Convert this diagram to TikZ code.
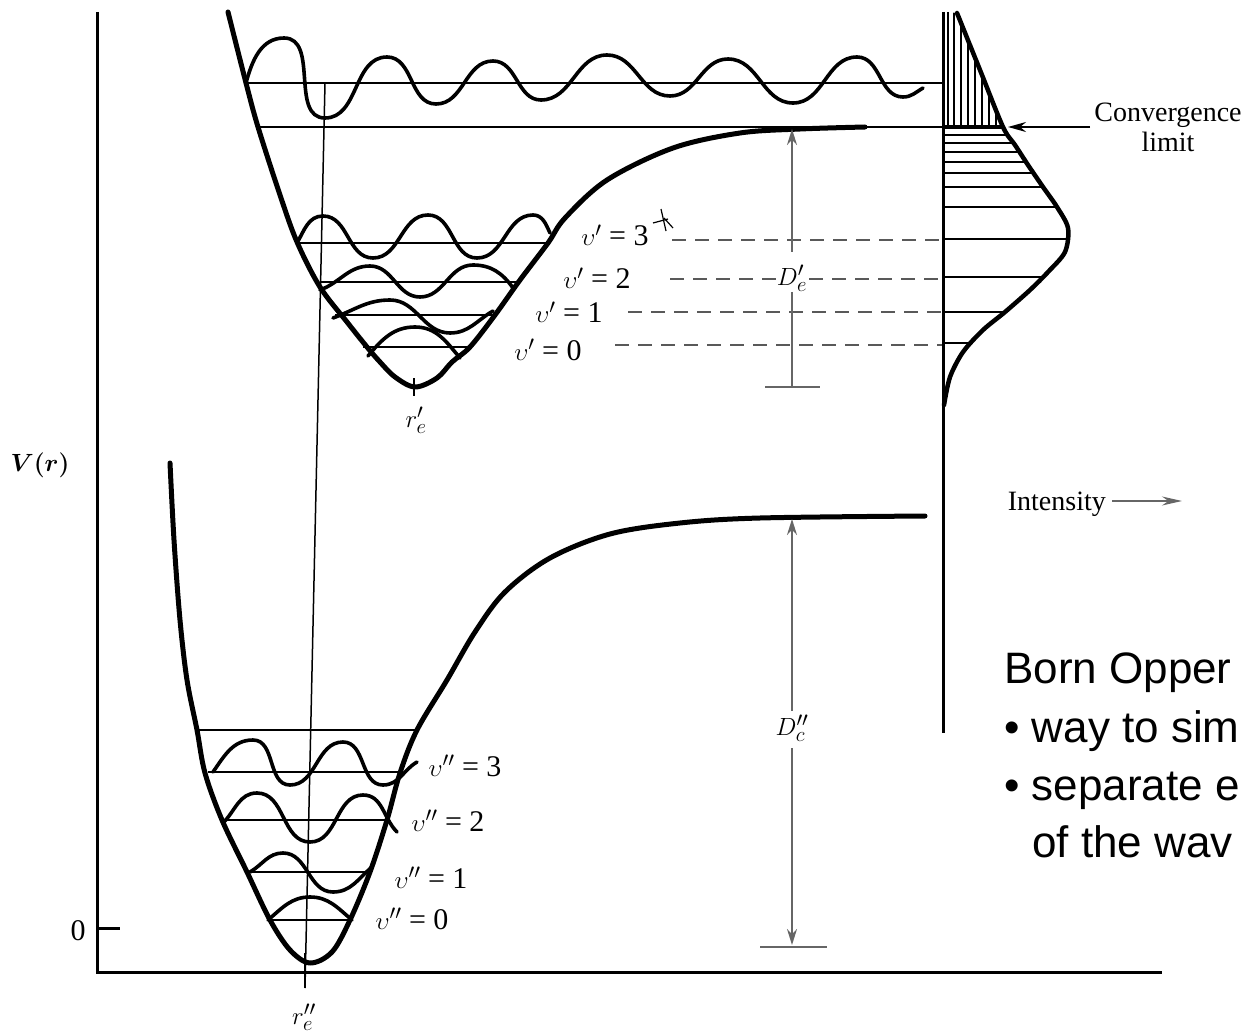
\documentclass[tikz,border=0pt]{standalone}
\usepackage{fontspec}
\setmainfont{Liberation Serif}
\newfontfamily\arialf{Liberation Sans}
\usetikzlibrary{arrows.meta}
\begin{document}
\begin{tikzpicture}[x=1pt,y=1pt,
  pot/.style={line width=5pt, line cap=round, line join=round},
  wav/.style={line width=3.6pt, line cap=round, line join=round},
  lev/.style={line width=1.6pt},
  ax/.style={line width=3pt},
  dsh/.style={line width=1.8pt, black!65, dash pattern=on 14pt off 9pt},
  dimln/.style={line width=1.8pt, black!60},
  hatch/.style={line width=1.5pt},
  lbl/.style={font=\fontsize{30}{34}\selectfont, inner sep=0pt},
  bo/.style={font=\arialf\fontsize{44}{58}\selectfont, inner sep=0pt, anchor=base west}]
\useasboundingbox (0,0) rectangle (1245,-1032);
\begin{scope}
\clip (0,0) rectangle (1245,-1032);
% axes
\draw[ax] (97,-12) -- (97,-972) -- (1162,-972);
\draw[ax] (97,-928) -- (120,-928);
\node[lbl] (zero) at (78,-931) {0};
\node[lbl, font=\fontsize{30}{34}\selectfont\boldmath] (Vr) at (40,-465) {$V(r)$};
% Franck-Condon vertical line
\draw[line width=1.5pt] (325,-83) -- (305,-988);
% upper continuum level + convergence line
\draw[lev] (246,-83) -- (943,-83);
\draw[lev] (258,-127) -- (943,-127);
% upper potential
\draw[pot] plot[smooth, tension=0.55] coordinates {(228,-12) (246,-83) (258,-127) (280,-195) (297,-242) (320,-287) (347,-322) (367,-347) (380,-362) (395,-377) (415,-387) (437,-378) (452,-362) (470,-347) (495,-315) (520,-280) (548,-243) (565,-218) (607,-180) (673,-148) (740,-133) (800,-129) (865,-127)};
% upper continuum wave
\draw[wav] (246,-83) to[out=75,in=180] (284,-38) to[out=0,in=180] (325,-118) to[out=0,in=180] (387,-57) to[out=0,in=180] (436,-104) to[out=0,in=180] (493,-61) to[out=0,in=180] (541,-100) to[out=0,in=180] (607,-55) to[out=0,in=180] (670,-96) to[out=0,in=180] (728,-59) to[out=0,in=180] (793,-103) to[out=0,in=180] (857,-57) to[out=0,in=180] (903,-97) to[out=0,in=210] (923,-88);
% upper vibrational levels
\draw[lev] (297,-243) -- (550,-243);
\draw[lev] (320,-282) -- (516,-282);
\draw[lev] (335,-315) -- (495,-315);
\draw[lev] (363,-347) -- (470,-347);
\draw[wav] (297,-243) to[out=60,in=180] (323,-216) to[out=0,in=180] (373,-258) to[out=0,in=180] (428,-215) to[out=0,in=180] (477,-258) to[out=0,in=180] (533,-215) to[out=0,in=115] (550,-233);
\draw[wav] (320,-290) to[out=20,in=180] (370,-266) to[out=0,in=180] (420,-297) to[out=0,in=180] (473,-265) to[out=0,in=125] (513,-288);
\draw[wav] (333,-318) to[out=20,in=180] (390,-300) to[out=0,in=180] (450,-333) to[out=0,in=210] (493,-311);
\draw[wav] (368,-356) to[out=50,in=180] (415,-327) to[out=0,in=130] (460,-358);
% r_e' tick
\draw[line width=1.5pt] (414,-378) -- (414,-396);
\node[lbl] (rep) at (416,-420) {$r'_e$};
% v' labels
\node[lbl, anchor=base] (v3) at (615,-246) {$\upsilon'$ = 3};
\node[lbl, anchor=base] (v2) at (597,-289) {$\upsilon'$ = 2};
\node[lbl, anchor=base] (v1) at (569,-323) {$\upsilon'$ = 1};
\node[lbl, anchor=base] (v0) at (548,-360) {$\upsilon'$ = 0};
% small mark near v'=3
\draw[line width=1.2pt] (653,-223) -- (668,-219);
\draw[line width=1.2pt] (661,-209) -- (666,-231);
\draw[line width=1.2pt] (664,-218) -- (673,-228);
% dashed projections
\draw[dsh] (672,-240) -- (943,-240);
\draw[dsh] (670,-279) -- (776,-279);
\draw[dsh] (809,-279) -- (943,-279);
\draw[dsh] (628,-312) -- (943,-312);
\draw[dsh] (615,-345) -- (943,-345);
% D_e' dimension
\coordinate (DeTop) at (792,-129);
\coordinate (DeA) at (792,-252);
\coordinate (DeB) at (792,-292);
\coordinate (DeBot) at (792,-387);
\draw[dimln, -{Stealth[length=16pt,width=10pt]}] (DeA) -- (DeTop);
\draw[dimln] (DeB) -- (DeBot);
\draw[dimln] (765,-387) -- (820,-387);
\node[lbl] (De) at (792,-278) {$D'_e$};
% lower potential
\draw[pot] plot[smooth, tension=0.55] coordinates {(170,-463) (174,-540) (180,-620) (187,-680) (197,-730) (205,-773) (222,-820) (247,-872) (270,-920) (290,-950) (310,-963) (332,-952) (350,-920) (370,-872) (387,-820) (400,-773) (417,-730) (447,-680) (475,-632) (505,-592) (550,-558) (610,-534) (680,-523) (760,-518) (925,-516)};
% lower levels
\draw[lev] (198,-730) -- (417,-730);
\draw[lev] (208,-772) -- (403,-772);
\draw[lev] (222,-820) -- (388,-820);
\draw[lev] (247,-872) -- (372,-872);
\draw[lev] (268,-920) -- (352,-920);
\draw[wav] (213,-772) to[out=55,in=180] (253,-740) to[out=0,in=180] (290,-785) to[out=0,in=180] (343,-742) to[out=0,in=180] (383,-785) to[out=0,in=210] (417,-762);
\draw[wav] (223,-823) to[out=45,in=180] (257,-793) to[out=0,in=180] (310,-842) to[out=0,in=180] (363,-795) to[out=0,in=135] (397,-832);
\draw[wav] (250,-872) to[out=30,in=180] (283,-853) to[out=0,in=180] (333,-892) to[out=0,in=220] (372,-867);
\draw[wav] (268,-920) to[out=40,in=180] (310,-897) to[out=0,in=140] (352,-920);
% r_e'' tick
\draw[line width=1.8pt] (305,-953) -- (305,-988);
\node[lbl] (repp) at (304,-1017) {$r''_e$};
% v'' labels
\node[lbl, anchor=base] (w3) at (465,-776) {$\upsilon''$ = 3};
\node[lbl, anchor=base] (w2) at (448,-831) {$\upsilon''$ = 2};
\node[lbl, anchor=base] (w1) at (431,-888) {$\upsilon''$ = 1};
\node[lbl, anchor=base] (w0) at (412,-929) {$\upsilon''$ = 0};
% D_c'' dimension
\coordinate (DcTop) at (792,-519);
\coordinate (DcA) at (792,-711);
\coordinate (DcB) at (792,-748);
\coordinate (DcBot) at (792,-945);
\draw[dimln, -{Stealth[length=16pt,width=10pt]}] (DcA) -- (DcTop);
\draw[dimln, -{Stealth[length=16pt,width=10pt]}] (DcB) -- (DcBot);
\draw[dimln] (760,-947) -- (827,-947);
\node[lbl] (Dc) at (792,-728) {$D''_c$};
% intensity axis
\draw[ax] (943,-12) -- (943,-733);
\draw[line width=2.2pt] (948,-12) -- (948,-127);
\begin{scope}
\clip (943,-12) -- plot[smooth, tension=0.5] coordinates {(957,-13) (980,-70) (1003,-127) (1015,-145) (1028,-165) (1043,-187) (1057,-207) (1068,-228) (1065,-252) (1048,-272) (1030,-290) (1005,-312) (983,-330) (963,-352) (950,-377) (944,-405)} -- cycle;
\foreach \xx in {954,961,968,975,982,989,996} \draw[hatch] (\xx,-10) -- (\xx,-127);
\foreach \yy in {135,143,152,162,173,187,207,239,277,312,343} \draw[hatch] (943,-\yy) -- (1100,-\yy);
\draw[line width=4pt] (943,-127) -- (1100,-127);
\end{scope}
\draw[line width=4.5pt, line cap=round] plot[smooth, tension=0.5] coordinates {(957,-13) (980,-70) (1003,-127) (1015,-145) (1028,-165) (1043,-187) (1057,-207) (1068,-228) (1065,-252) (1048,-272) (1030,-290) (1005,-312) (983,-330) (963,-352) (950,-377) (944,-405)};
% convergence limit
\node[lbl, font=\fontsize{28}{30}\selectfont, anchor=base] (conv) at (1168,-122) {Convergence};
\node[lbl, font=\fontsize{28}{30}\selectfont, anchor=base] (lim) at (1168,-152) {limit};
\coordinate (cvA) at (1090,-127);
\coordinate (cvB) at (1008,-127);
\draw[line width=1.8pt, -{Stealth[length=18pt,width=10pt]}] (cvA) -- (cvB);
% intensity label
\node[lbl, font=\fontsize{28}{30}\selectfont, anchor=base east] (int) at (1106,-510) {Intensity};
\coordinate (inA) at (1112,-501);
\coordinate (inB) at (1182,-501);
\draw[dimln, -{Stealth[length=20pt,width=9pt]}] (inA) -- (inB);
% Born-Oppenheimer text
\node[bo] (b1) at (1004,-683) {Born Opper};
\node[bo] (b2) at (1004,-742) {\textbullet\ way to sim};
\node[bo] (b3) at (1004,-800) {\textbullet\ separate e};
\node[bo] (b4) at (1032,-857) {of the wav};
\end{scope}
\end{tikzpicture}
\end{document}
